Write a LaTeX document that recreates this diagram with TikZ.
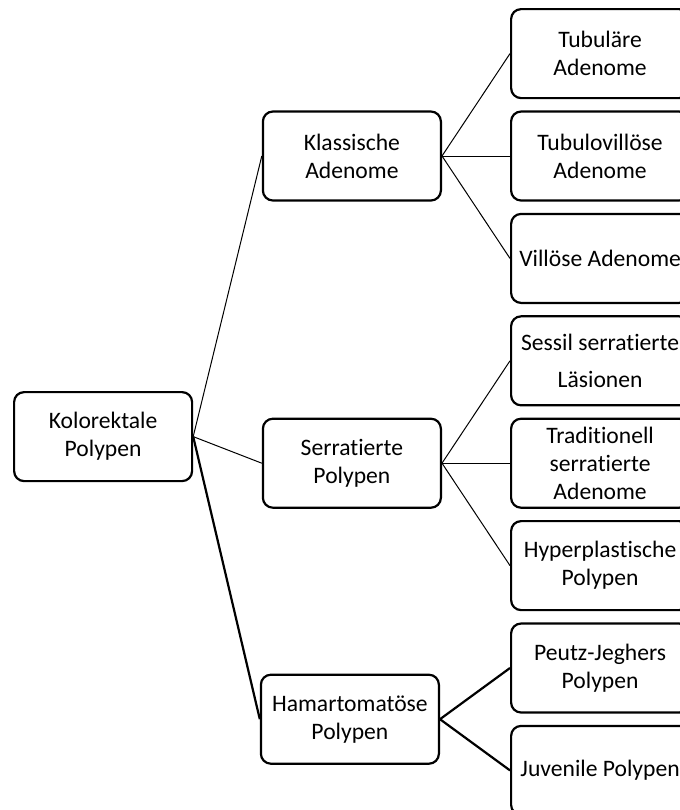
\documentclass[tikz,border=0pt]{standalone}
\usepackage{fontspec}
\setmainfont{Carlito}[Ligatures=NoCommon]
\usepackage{tikz}
\usetikzlibrary{positioning,calc}

\begin{document}
\begin{tikzpicture}[
    font=\fontsize{11.8pt}{14pt}\selectfont,
    node distance=5.6pt,
    box/.style    ={draw, line width=1.1pt, rounded corners=5pt, inner sep=2pt,
                    minimum height=44.5pt, minimum width=89pt,
                    align=center, fill=white},
    leafbox/.style={box},
    midbox/.style ={box},
    link/.style   ={line width=0.5pt},
    boldlink/.style={line width=1.1pt},
]
\clip (0,0) rectangle (340pt,-405pt);

% =========================================================
% Right column: subtypes (top -> bottom)
% =========================================================
\node[leafbox, anchor=north west] (tub) at (255pt,-4pt) {Tubuläre\\Adenome};
\node[leafbox, below=of tub]    (tubvil) {Tubulovillöse\\Adenome};
\node[leafbox, below=of tubvil] (vil)    {Villöse Adenome};
\node[leafbox, below=of vil]    (ssl)    {Sessil serratierte\\[4.5pt]Läsionen};
\node[leafbox, below=of ssl]    (tsa)    {Traditionell\\serratierte\\Adenome};
\node[leafbox, below=of tsa]    (hyp)    {Hyperplastische\\Polypen};
\node[leafbox, below=of hyp]    (pjs)    {Peutz-Jeghers\\Polypen};
\node[leafbox, below=of pjs]    (juv)    {Juvenile Polypen};

% =========================================================
% Middle column: groups
% =========================================================
\node[midbox, left=34pt of tubvil] (klass) {Klassische\\Adenome};
\node[midbox, left=34pt of tsa]    (serr)  {Serratierte\\Polypen};
\node[midbox, anchor=east, xshift=-35pt] (hamart)
    at ($(pjs.west)!0.5!(juv.west)$) {Hamartomatöse\\Polypen};

% =========================================================
% Left: root
% =========================================================
\node[midbox, anchor=north west] (root) at (6.5pt,-195.5pt)
    {Kolorektale\\Polypen};

% Root -> groups
\draw[link]     (root.east) -- (klass.west);
\draw[link]     (root.east) -- (serr.west);
\draw[boldlink] (root.east) -- (hamart.west);

% Groups -> subtypes
\foreach \leaf in {tub,tubvil,vil}
    \draw[link] (klass.east) -- (\leaf.west);
\foreach \leaf in {ssl,tsa,hyp}
    \draw[link] (serr.east) -- (\leaf.west);
\foreach \leaf in {pjs,juv}
    \draw[boldlink] (hamart.east) -- (\leaf.west);

\end{tikzpicture}
\end{document}
